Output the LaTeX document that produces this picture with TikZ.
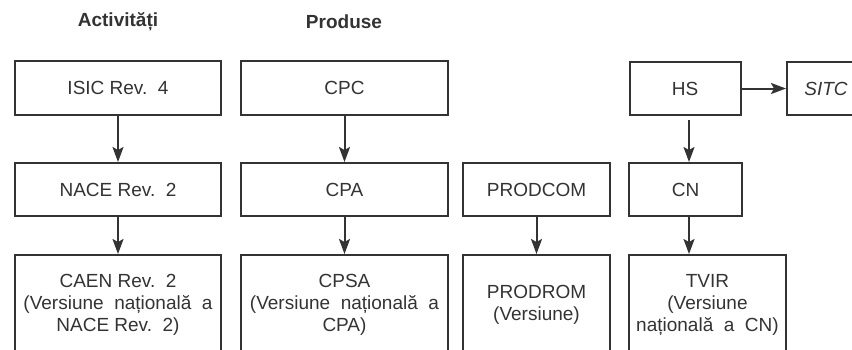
\documentclass[tikz,border=0pt]{standalone}
\usepackage{fontspec}
\setmainfont{Liberation Sans}
\usetikzlibrary{arrows.meta}

\begin{document}
\begin{tikzpicture}[x=1pt, y=-1pt,
    box/.style={draw=black!80, line width=2pt, minimum height=53pt,
        inner sep=0pt, align=center, text=black!80,
        font=\fontsize{19}{22}\selectfont},
    head/.style={text=black!80, font=\fontsize{19}{22}\selectfont\bfseries},
    arr/.style={draw=black!80, line width=2pt,
        -{Stealth[length=15pt, width=11pt, inset=3pt]}}]
    % Frame
    \clip (0,0) rectangle (852,349);

    % Headings
    \node[head] (hact) at (118,22) {Activități};
    \node[head] (hprod) at (344,22) {Produse};

    % Top row
    \node[box, minimum width=206pt, minimum height=54pt] (isic) at (118,88) {ISIC Rev.\ \ 4};
    \node[box, minimum width=207pt, minimum height=54pt] (cpc) at (344.5,88) {CPC};
    \node[box, minimum width=111pt] (hs) at (685,88.5) {HS};
    \node[box, minimum width=78pt] (sitc) at (826,88.5) {\itshape SITC};

    % Middle row
    \node[box, minimum width=206pt] (nace) at (118,189.5) {NACE Rev.\ \ 2};
    \node[box, minimum width=207pt] (cpa) at (344.5,189.5) {CPA};
    \node[box, minimum width=147pt] (prodcom) at (536.5,189.5) {PRODCOM};
    \node[box, minimum width=113pt] (cn) at (685.5,189.5) {CN};

    % Bottom row (national versions)
    \node[box, minimum width=206pt, minimum height=100pt] (caen) at (118,305)
        {CAEN Rev.\ \ 2\\(Versiune\ \ națională\ \ a\\NACE Rev.\ \ 2)};
    \node[box, minimum width=207pt, minimum height=100pt] (cpsa) at (344.5,305)
        {CPSA\\(Versiune\ \ națională\ \ a\\CPA)};
    \node[box, minimum width=147pt, minimum height=100pt] (prodrom) at (536.5,305)
        {PRODROM\\(Versiune)};
    \node[box, minimum width=157pt, minimum height=100pt] (tvir) at (707.5,305)
        {TVIR\\(Versiune\\națională\ \ a\ \ CN)};

    % Links
    \draw[arr] (isic) -- (nace);
    \draw[arr] (nace) -- (caen);
    \draw[arr] (cpc) -- (cpa);
    \draw[arr] (cpa) -- (cpsa);
    \draw[arr] (prodcom) -- (prodrom);
    \draw[arr] (hs) -- (sitc);
    \draw[arr, shorten <=4pt] ([xshift=4pt]hs.south) -- ([xshift=4pt]hs.south |- cn.north);
    \draw[arr] ([xshift=3.5pt]cn.south) -- ([xshift=3.5pt]cn.south |- tvir.north);
\end{tikzpicture}
\end{document}
